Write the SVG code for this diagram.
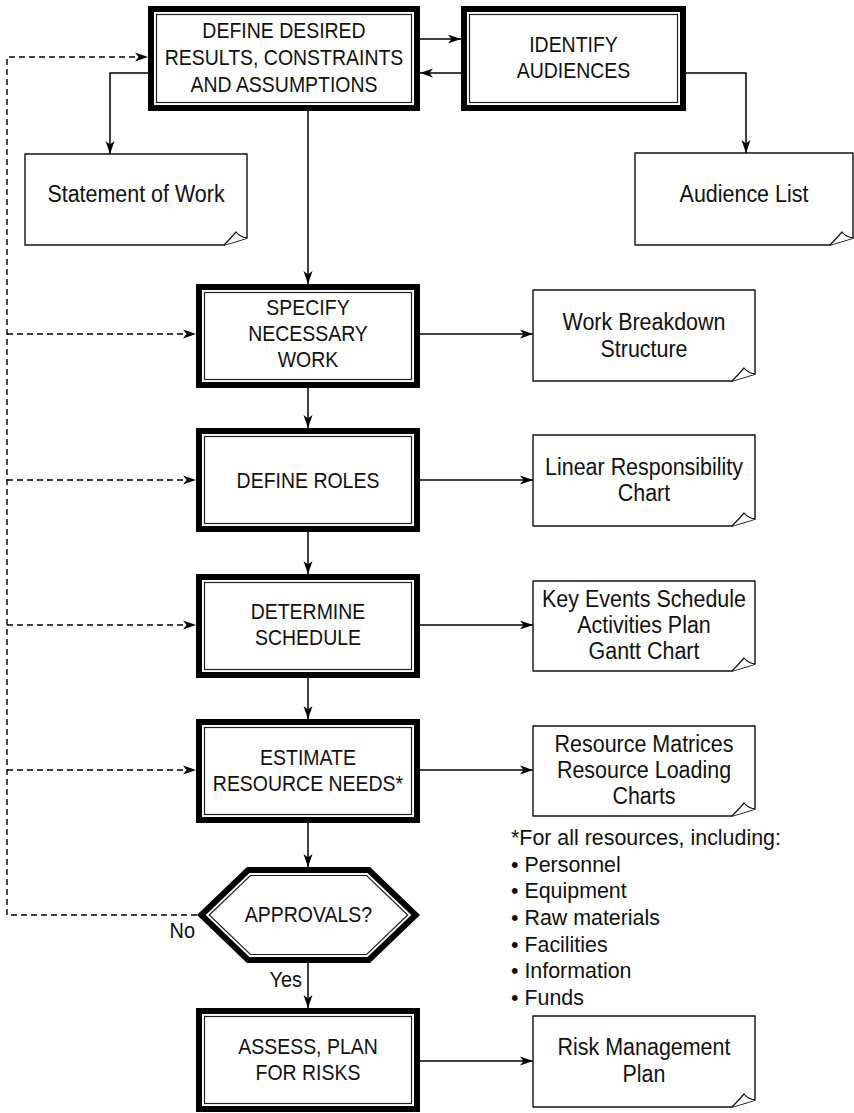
<svg xmlns="http://www.w3.org/2000/svg" width="854" height="1113" viewBox="0 0 854 1113">
<style>
.thick{fill:#fff;stroke:#000;stroke-width:6}
.thin{fill:none;stroke:#222;stroke-width:1.2}
.doc{fill:#fff;stroke:#111;stroke-width:1.4;stroke-linejoin:round}
.flap{fill:#fff;stroke:#111;stroke-width:1.2}
.cap{font-family:"Liberation Sans",Arial,sans-serif;font-size:22px;text-anchor:middle;fill:#111}
.dt{font-family:"Liberation Sans",Arial,sans-serif;font-size:23px;text-anchor:middle;fill:#111}
.fn{font-family:"Liberation Sans",Arial,sans-serif;font-size:21.4px;fill:#111}
.line{fill:none;stroke:#000;stroke-width:1.5}
.dash{fill:none;stroke:#000;stroke-width:1.4;stroke-dasharray:6 4}
</style>
<defs>
<marker id="ah" markerUnits="userSpaceOnUse" markerWidth="14" markerHeight="10" refX="13" refY="5" orient="auto">
<path d="M0,0.5 L13,5 L0,9.5 L3.5,5 Z" fill="#000"/>
</marker>
</defs>
<rect width="854" height="1113" fill="#fff"/>

<g id="connectors">
<path class="line" d="M420,39 H461" marker-end="url(#ah)"/>
<path class="line" d="M461,73 H420" marker-end="url(#ah)"/>
<path class="line" d="M148,73 H110 V154" marker-end="url(#ah)"/>
<path class="line" d="M686,73 H746 V153" marker-end="url(#ah)"/>
<path class="line" d="M308,111 V284" marker-end="url(#ah)"/>
<path class="line" d="M308,388 V428" marker-end="url(#ah)"/>
<path class="line" d="M308,532 V574" marker-end="url(#ah)"/>
<path class="line" d="M308,678 V719" marker-end="url(#ah)"/>
<path class="line" d="M308,823 V867" marker-end="url(#ah)"/>
<path class="line" d="M308,963 V1008" marker-end="url(#ah)"/>
<path class="line" d="M420,334 H533" marker-end="url(#ah)"/>
<path class="line" d="M420,480 H533" marker-end="url(#ah)"/>
<path class="line" d="M420,625 H533" marker-end="url(#ah)"/>
<path class="line" d="M420,770 H533" marker-end="url(#ah)"/>
<path class="line" d="M420,1061 H533" marker-end="url(#ah)"/>
<path class="dash" d="M197,915 H7 V57 H148" marker-end="url(#ah)"/>
<path class="dash" d="M7,334 H196" marker-end="url(#ah)"/>
<path class="dash" d="M7,480 H196" marker-end="url(#ah)"/>
<path class="dash" d="M7,625 H196" marker-end="url(#ah)"/>
<path class="dash" d="M7,770 H196" marker-end="url(#ah)"/>
</g>

<g id="define-results">
<rect class="thick" x="151" y="9" width="266" height="99"/>
<rect class="thin" x="156.5" y="14.5" width="255" height="88"/>
<g transform="translate(284 0) scale(0.885 1)">
<text class="cap" x="0" y="38">DEFINE DESIRED</text>
<text class="cap" x="0" y="65">RESULTS, CONSTRAINTS</text>
<text class="cap" x="0" y="92">AND ASSUMPTIONS</text>
</g>
</g>

<g id="identify-audiences">
<rect class="thick" x="464" y="9" width="219" height="99"/>
<rect class="thin" x="469.5" y="14.5" width="208" height="88"/>
<g transform="translate(573.5 0) scale(0.885 1)">
<text class="cap" x="0" y="52">IDENTIFY</text>
<text class="cap" x="0" y="78">AUDIENCES</text>
</g>
</g>

<g id="statement-of-work">
<path class="doc" d="M25,154 H247 V238 Q238,241 224,245 H25 Z"/>
<path class="flap" d="M224,245 Q231,238 236,232 Q240,237 247,238"/>
<g transform="translate(136 0) scale(0.933 1)"><text class="dt" x="0" y="202">Statement of Work</text></g>
</g>

<g id="audience-list">
<path class="doc" d="M635,153 H853 V238 Q844,241 830,245 H635 Z"/>
<path class="flap" d="M830,245 Q837,238 842,232 Q846,237 853,238"/>
<g transform="translate(744 0) scale(0.933 1)"><text class="dt" x="0" y="202">Audience List</text></g>
</g>

<g id="specify-work">
<rect class="thick" x="199" y="287" width="218" height="98"/>
<rect class="thin" x="204.5" y="292.5" width="207" height="87"/>
<g transform="translate(308 0) scale(0.885 1)">
<text class="cap" x="0" y="315">SPECIFY</text>
<text class="cap" x="0" y="341">NECESSARY</text>
<text class="cap" x="0" y="367">WORK</text>
</g>
</g>

<g id="wbs">
<path class="doc" d="M533,290 H755 V374 Q746,377 732,381 H533 Z"/>
<path class="flap" d="M732,381 Q739,374 744,368 Q748,373 755,374"/>
<g transform="translate(644 0) scale(0.933 1)">
<text class="dt" x="0" y="330">Work Breakdown</text>
<text class="dt" x="0" y="357">Structure</text>
</g>
</g>

<g id="define-roles">
<rect class="thick" x="199" y="431" width="218" height="98"/>
<rect class="thin" x="204.5" y="436.5" width="207" height="87"/>
<g transform="translate(308 0) scale(0.885 1)">
<text class="cap" x="0" y="488">DEFINE ROLES</text>
</g>
</g>

<g id="lrc">
<path class="doc" d="M533,435 H755 V519 Q746,522 732,526 H533 Z"/>
<path class="flap" d="M732,526 Q739,519 744,513 Q748,518 755,519"/>
<g transform="translate(644 0) scale(0.933 1)">
<text class="dt" x="0" y="475">Linear Responsibility</text>
<text class="dt" x="0" y="501">Chart</text>
</g>
</g>

<g id="determine-schedule">
<rect class="thick" x="199" y="577" width="218" height="98"/>
<rect class="thin" x="204.5" y="582.5" width="207" height="87"/>
<g transform="translate(308 0) scale(0.885 1)">
<text class="cap" x="0" y="619">DETERMINE</text>
<text class="cap" x="0" y="645">SCHEDULE</text>
</g>
</g>

<g id="schedules">
<path class="doc" d="M533,581 H755 V664 Q746,667 732,671 H533 Z"/>
<path class="flap" d="M732,671 Q739,664 744,658 Q748,663 755,664"/>
<g transform="translate(644 0) scale(0.933 1)">
<text class="dt" x="0" y="607">Key Events Schedule</text>
<text class="dt" x="0" y="633">Activities Plan</text>
<text class="dt" x="0" y="659">Gantt Chart</text>
</g>
</g>

<g id="estimate-resources">
<rect class="thick" x="199" y="722" width="218" height="98"/>
<rect class="thin" x="204.5" y="727.5" width="207" height="87"/>
<g transform="translate(308 0) scale(0.885 1)">
<text class="cap" x="0" y="765">ESTIMATE</text>
<text class="cap" x="0" y="791">RESOURCE NEEDS*</text>
</g>
</g>

<g id="resource-charts">
<path class="doc" d="M533,726 H755 V809 Q746,812 732,816 H533 Z"/>
<path class="flap" d="M732,816 Q739,809 744,803 Q748,808 755,809"/>
<g transform="translate(644 0) scale(0.933 1)">
<text class="dt" x="0" y="752">Resource Matrices</text>
<text class="dt" x="0" y="778">Resource Loading</text>
<text class="dt" x="0" y="804">Charts</text>
</g>
</g>

<g id="footnote">
<text class="fn" x="511" y="845">*For all resources, including:</text>
<text class="fn" x="511" y="872">• Personnel</text>
<text class="fn" x="511" y="898">• Equipment</text>
<text class="fn" x="511" y="925">• Raw materials</text>
<text class="fn" x="511" y="952">• Facilities</text>
<text class="fn" x="511" y="978">• Information</text>
<text class="fn" x="511" y="1005">• Funds</text>
</g>

<g id="approvals">
<polygon class="thick" points="201.3,915 248.2,870 368.8,870 415.7,915 368.8,960 248.2,960"/>
<polygon class="thin" points="209.3,915 250.4,875.5 366.6,875.5 407.7,915 366.6,954.5 250.4,954.5"/>
<g transform="translate(308.5 0) scale(0.885 1)">
<text class="cap" x="0" y="922">APPROVALS?</text>
</g>
<g transform="translate(195 0) scale(0.93 1)"><text class="fn" x="0" y="938" text-anchor="end">No</text></g>
<g transform="translate(302 0) scale(0.93 1)"><text class="fn" x="0" y="987" text-anchor="end">Yes</text></g>
</g>

<g id="assess-risks">
<rect class="thick" x="199" y="1011" width="218" height="98"/>
<rect class="thin" x="204.5" y="1016.5" width="207" height="87"/>
<g transform="translate(308 0) scale(0.885 1)">
<text class="cap" x="0" y="1054">ASSESS, PLAN</text>
<text class="cap" x="0" y="1080">FOR RISKS</text>
</g>
</g>

<g id="risk-plan">
<path class="doc" d="M533,1016 H755 V1100 Q746,1103 732,1107 H533 Z"/>
<path class="flap" d="M732,1107 Q739,1100 744,1094 Q748,1099 755,1100"/>
<g transform="translate(644 0) scale(0.933 1)">
<text class="dt" x="0" y="1055">Risk Management</text>
<text class="dt" x="0" y="1082">Plan</text>
</g>
</g>
</svg>
